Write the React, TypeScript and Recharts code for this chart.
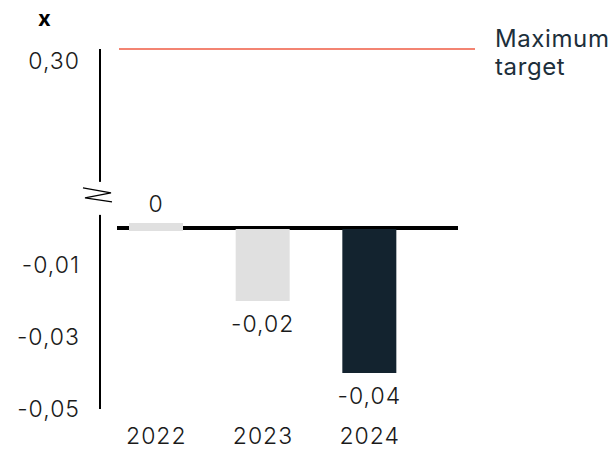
import { Bar, BarChart, Cell, LabelList, ReferenceLine, XAxis, YAxis } from "recharts";

const YEARS = ["2022", "2023", "2024"];
const VALUES = [0, -0.02, -0.04];
const Y_TICKS = [-0.05, -0.03, -0.01, 0.0467];
const Y_TICK_LABELS = ["-0,05", "-0,03", "-0,01", "0,30"];
const AXIS_BREAK = 0.0092;
const TARGET = 0.05;
const TARGET_LABEL = ["Maximum", "target"];

const BAR_FILLS = ["#e0e0e0", "#e0e0e0", "#13232f"];
const TEXT = "#1a1a1a";
const NAVY = "#1d2f3b";
const TARGET_RED = "#ef5b43";
const FONT = "Inter, 'Noto Sans', sans-serif";

const data = YEARS.map((year, i) => ({ year, value: VALUES[i] }));

const fmt = (v: number) => (v === 0 ? "0" : v.toFixed(2).replace(".", ","));

const textStyle = {
  fontSize: 23,
  fontFamily: FONT,
  fontWeight: 300,
  fill: TEXT,
  letterSpacing: 1,
};

function YTick({ x, y, payload }: any) {
  if (payload.value === AXIS_BREAK) {
    const ax = x + 20;
    return (
      <g>
        <rect x={ax - 4} y={y - 14} width={8} height={33} fill="#fff" />
        <polyline
          points={`${ax - 17},${y - 8} ${ax + 11},${y - 3} ${ax - 15},${y + 2} ${ax + 12},${y + 6}`}
          fill="none"
          stroke="#000"
          strokeWidth={1.3}
        />
      </g>
    );
  }
  const i = Y_TICKS.indexOf(payload.value);
  return (
    <text x={x} y={y} dy={8} textAnchor="end" style={textStyle}>
      {Y_TICK_LABELS[i]}
    </text>
  );
}

function XTick({ x, y, payload }: any) {
  return (
    <text x={x} y={y} dy={35} textAnchor="middle" style={textStyle}>
      {payload.value}
    </text>
  );
}

function BarShape({ x, y, width, height, fill }: any) {
  if (Math.abs(height) < 1) {
    return <rect x={x} y={y - 6} width={width} height={8} fill={fill} />;
  }
  return <rect x={x} y={Math.min(y, y + height)} width={width} height={Math.abs(height)} fill={fill} />;
}

function BarLabel({ x, y, width, height, value }: any) {
  const cx = x + width / 2;
  const end = value < 0 ? Math.max(y, y + height) : Math.min(y, y + height);
  const ty = value < 0 ? end + 31 : end - 17;
  return (
    <text x={cx} y={ty} textAnchor="middle" style={textStyle}>
      {fmt(value)}
    </text>
  );
}

function TargetLabel({ viewBox }: any) {
  const lx = viewBox.x + viewBox.width + 20;
  return (
    <text
      x={lx}
      y={viewBox.y}
      style={{ fontSize: 24, fontFamily: FONT, fontWeight: 400, fill: NAVY, letterSpacing: 0.6 }}
    >
      <tspan x={lx} dy={-2}>{TARGET_LABEL[0]}</tspan>
      <tspan x={lx} dy={28}>{TARGET_LABEL[1]}</tspan>
    </text>
  );
}

export default function App() {
  return (
    <div style={{ position: "absolute", left: 0, top: 0, width: 615, height: 455, background: "#fff" }}>
      <div
        style={{
          position: "absolute",
          left: 38,
          top: 5,
          fontFamily: FONT,
          fontWeight: 700,
          fontSize: 22,
          color: "#000",
        }}
      >
        x
      </div>
      <BarChart width={615} height={455} data={data} margin={{ top: 49, right: 140, bottom: 0, left: 10 }}>
        <XAxis
          dataKey="year"
          padding={{ left: 3, right: 52 }}
          axisLine={false}
          tickLine={false}
          tickSize={0}
          tickMargin={0}
          height={46}
          tick={<XTick />}
        />
        <YAxis
          type="number"
          domain={[-0.05, 0.05]}
          ticks={[...Y_TICKS, AXIS_BREAK]}
          interval={0}
          width={90}
          axisLine={{ stroke: "#000", strokeWidth: 2 }}
          tickLine={false}
          tickSize={0}
          tickMargin={20}
          tick={<YTick />}
        />
        <ReferenceLine
          y={0}
          zIndex={250}
          stroke="#000"
          strokeWidth={4}
          shape={(p: any) => <line x1={p.x1 + 17} y1={p.y1 - 1} x2={p.x2 - 17} y2={p.y2 - 1} stroke="#000" strokeWidth={4} />}
        />
        <ReferenceLine
          y={TARGET}
          stroke={TARGET_RED}
          strokeWidth={1.5}
          ifOverflow="visible"
          shape={(p: any) => <line x1={p.x1 + 19} y1={p.y1} x2={p.x2} y2={p.y2} stroke={TARGET_RED} strokeWidth={1.5} />}
          label={<TargetLabel />}
        />
        <Bar dataKey="value" barSize={54} isAnimationActive={false} shape={<BarShape />}>
          {data.map((d, i) => (
            <Cell key={d.year} fill={BAR_FILLS[i]} />
          ))}
          <LabelList dataKey="value" content={<BarLabel />} />
        </Bar>
      </BarChart>
    </div>
  );
}
